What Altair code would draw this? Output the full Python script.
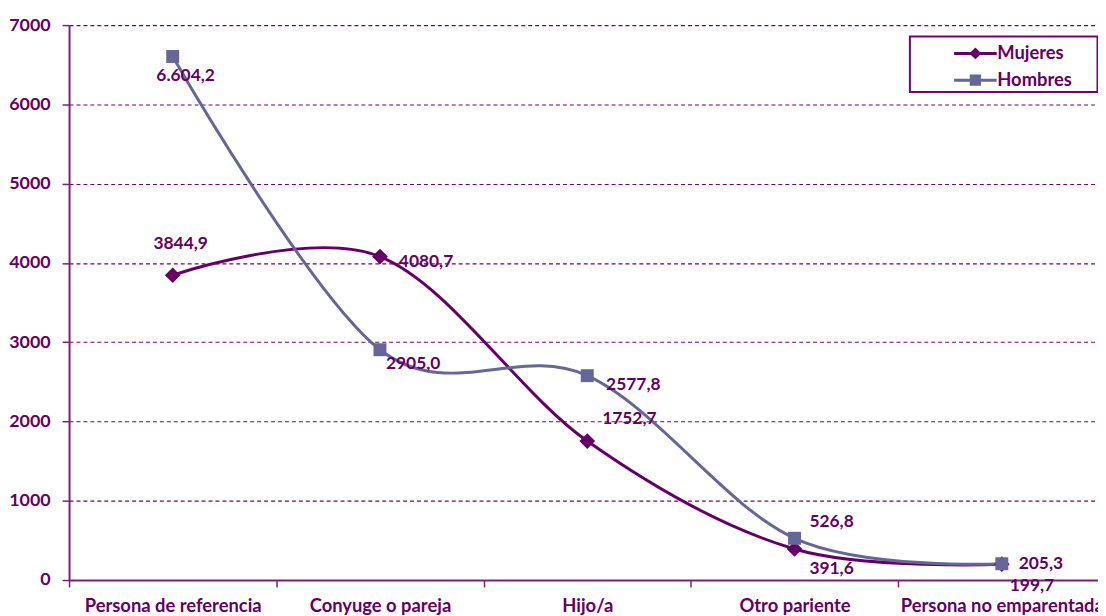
import json
import altair as alt
import pandas as pd

# ---------------- data ----------------
categories = ["Persona de referencia", "Conyuge o pareja", "Hijo/a",
              "Otro pariente", "Persona no emparentada"]
series = ["Mujeres", "Hombres"]
mujeres = [3844.9, 4080.7, 1752.7, 391.6, 199.7]
hombres = [6604.2, 2905.0, 2577.8, 526.8, 205.3]
mujeres_labels = ["3844,9", "4080,7", "1752,7", "391,6", "199,7"]
hombres_labels = ["6.604,2", "2905,0", "2577,8", "526,8", "205,3"]
y_ticks = [0, 1000, 2000, 3000, 4000, 5000, 6000, 7000]

rows = []
for i, c in enumerate(categories):
    rows.append(dict(serie="Mujeres", idx=i, cat=c, valor=mujeres[i], etiqueta=mujeres_labels[i]))
    rows.append(dict(serie="Hombres", idx=i, cat=c, valor=hombres[i], etiqueta=hombres_labels[i]))
df = pd.DataFrame(rows)

# ---------------- style ----------------
DARK = "#660066"
SLATE = "#666699"
AXIS = "#7a1f7a"
GRID = "#760076"
FONT = "Lato"

PLOT_W = 1036.5
PLOT_H = 559
BAND = 208.8  # pixels per category

x_scale = alt.Scale(domain=[-0.5, -0.5 + PLOT_W / BAND], nice=False, zero=False)
y_scale = alt.Scale(domain=[0, 7000], nice=False)

x_values = [-0.5 + 0.5 * k for k in range(10)]
names_js = json.dumps(categories)
x_axis = alt.Axis(
    values=x_values,
    labelExpr=f"datum.value % 1 === 0 ? {names_js}[datum.value] : ''",
    labelOverlap=False, labelFlush=False, labelBound=False, labelLimit=400,
    grid=False, domainColor=AXIS, domainWidth=2,
    tickColor=AXIS, tickSize=7, tickWidth=1.5,
    tickOpacity={"condition": {"test": "datum.value % 1 === 0", "value": 0}, "value": 1},
    labelFont=FONT, labelFontSize=18.5, labelFontWeight="bold", labelColor=DARK,
    labelPadding=10, title=None,
)
y_axis = alt.Axis(
    values=y_ticks, format="d", grid=True, gridColor=GRID, gridDash=[4, 3], gridWidth=1.1,
    domainColor=AXIS, domainWidth=2, tickColor=AXIS, tickSize=7, tickWidth=1.5,
    labelFont=FONT, labelFontSize=18, labelFontWeight="bold", labelColor=DARK,
    labelPadding=12, title=None,
)

X = alt.X("idx:Q", scale=x_scale, axis=x_axis)
Y = alt.Y("valor:Q", scale=y_scale, axis=y_axis)
color_scale = alt.Scale(domain=series, range=[DARK, SLATE])
color_nolegend = alt.Color("serie:N", scale=color_scale, legend=None)

base = alt.Chart(df)

lines = base.mark_line(interpolate="cardinal", tension=0, strokeWidth=3).encode(
    x=X, y=Y, color=color_nolegend,
)

points_m = base.transform_filter("datum.serie === 'Mujeres'").mark_point(
    filled=True, shape="diamond", size=250, opacity=1
).encode(x=X, y=Y, color=color_nolegend)

points_h = base.transform_filter("datum.serie === 'Hombres'").mark_point(
    filled=True, shape="square", size=170, opacity=1
).encode(x=X, y=Y, color=color_nolegend)

# legend symbols: a short line with the marker in the middle
diamond_line = ("M-1.43,-0.1L-0.3,-0.1L0,-0.4L0.3,-0.1L1.43,-0.1L1.43,0.1"
                "L0.3,0.1L0,0.4L-0.3,0.1L-1.43,0.1Z")
square_line = ("M-1.43,-0.1L-0.38,-0.1L-0.38,-0.38L0.38,-0.38L0.38,-0.1L1.43,-0.1L1.43,0.1"
               "L0.38,0.1L0.38,0.38L-0.38,0.38L-0.38,0.1L-1.43,0.1Z")

legend_def = alt.Legend(
    title="\u2800", titleOrient="right", titlePadding=23, titleFontSize=2,
    orient="none", legendX=847, legendY=11.5,
    strokeColor=GRID, padding=2, fillColor="white",
    symbolSize=900, symbolStrokeWidth=0, symbolOffset=49, labelOffset=7,
    rowPadding=2,
    labelFont=FONT, labelFontSize=18.5, labelFontWeight="bold", labelColor=DARK,
)
legend_layer = base.transform_filter("datum.idx < 0").mark_point(filled=True, opacity=1).encode(
    x=X, y=Y,
    color=alt.Color("serie:N", scale=color_scale, legend=legend_def),
    shape=alt.Shape("serie:N", scale=alt.Scale(domain=series, range=[diamond_line, square_line]),
                    legend=legend_def),
)

label_style = {
    ("Mujeres", 0): dict(dx=8, dy=-31, align="center"),
    ("Mujeres", 1): dict(dx=19, dy=6, align="left"),
    ("Mujeres", 2): dict(dx=15, dy=-22, align="left"),
    ("Mujeres", 3): dict(dx=15, dy=20, align="left"),
    ("Mujeres", 4): dict(dx=8, dy=22, align="left"),
    ("Hombres", 0): dict(dx=13, dy=20, align="center"),
    ("Hombres", 1): dict(dx=6, dy=14, align="left"),
    ("Hombres", 2): dict(dx=19, dy=9, align="left"),
    ("Hombres", 3): dict(dx=15, dy=-16, align="left"),
    ("Hombres", 4): dict(dx=17, dy=0, align="left"),
}
texts = []
for (s, i), st in label_style.items():
    texts.append(
        base.transform_filter(f"datum.serie === '{s}' && datum.idx === {i}")
        .mark_text(font=FONT, fontSize=17.5, fontWeight="bold", color=DARK,
                   baseline="middle", **st)
        .encode(x=X, y=Y, text="etiqueta:N")
    )

chart = alt.layer(lines, points_m, points_h, *texts, legend_layer).resolve_scale(
    color="independent", shape="independent"
).properties(
    width=PLOT_W, height=PLOT_H, autosize="none",
    padding={"left": 61.5, "top": 15, "right": 0, "bottom": 34},
).configure_view(stroke=None).configure_legend(strokeWidth=2)

chart.save("out.html", embed_options={"renderer": "svg", "actions": False})
